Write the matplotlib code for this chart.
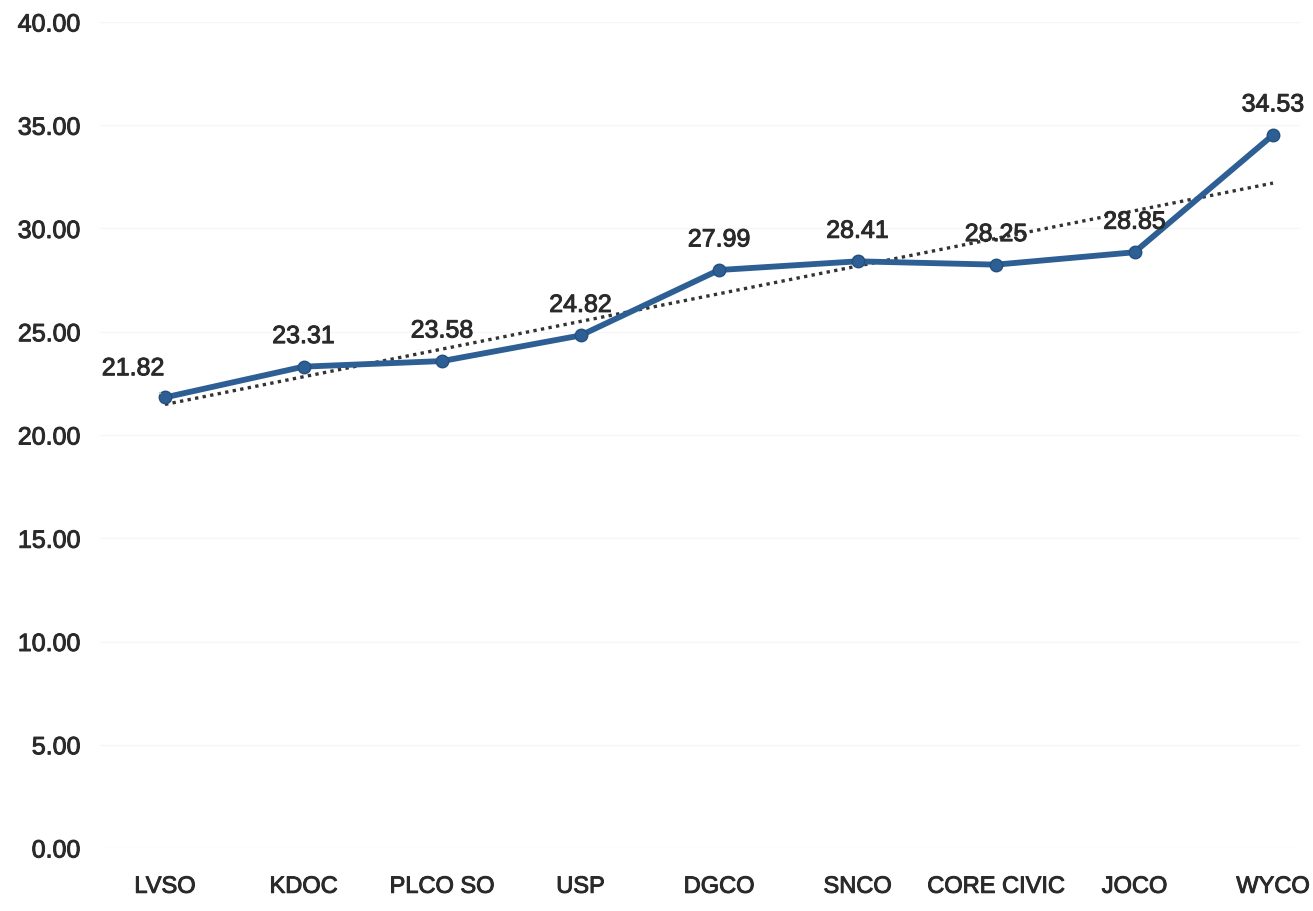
import matplotlib
matplotlib.use("Agg")
import matplotlib.pyplot as plt
import matplotlib.patheffects as pe
import numpy as np

categories = ["LVSO", "KDOC", "PLCO SO", "USP", "DGCO", "SNCO", "CORE CIVIC", "JOCO", "WYCO"]
values = [21.82, 23.31, 23.58, 24.82, 27.99, 28.41, 28.25, 28.85, 34.53]
y_ticks = [0, 5, 10, 15, 20, 25, 30, 35, 40]

plt.rcParams['font.family'] = ['Liberation Sans', 'DejaVu Sans']

W, H = 1313, 911
fig = plt.figure(figsize=(W / 100, H / 100), dpi=100)
left_px, right_px = 100, 1300
ax = fig.add_axes([left_px / W, (H - 848) / H, (right_px - left_px) / W, (848 - 22) / H])

x = np.arange(len(categories))
line_color = "#2d5f95"
text_color = "#2a2a2a"
thick = [pe.withStroke(linewidth=0.7, foreground=text_color)]

# trendline (linear fit)
coef = np.polyfit(x, values, 1)
ax.plot(x, np.polyval(coef, x), linestyle=(0, (1, 1.3)), color="#333333", lw=2.4, zorder=2)

ax.plot(x, values, color=line_color, lw=4.2, marker="o", markersize=9,
        markerfacecolor=line_color, markeredgecolor="#24507f", zorder=3)

for i, v in enumerate(values):
    if i == 0:
        t = ax.annotate(f"{v:.2f}", (i, v), xytext=(-23, 21), textcoords="offset points",
                        ha="center", va="center", fontsize=18, color=text_color,
                        arrowprops=dict(arrowstyle="-", color="#bbbbbb", lw=0.8,
                                        shrinkA=10, shrinkB=4))
    else:
        t = ax.annotate(f"{v:.2f}", (i, v), xytext=(0, 22), textcoords="offset points",
                        ha="center", va="center", fontsize=18, color=text_color)
    t.set_path_effects(thick)

scale = (1273 - 165) / 8
ax.set_xlim(-(165 - left_px) / scale, 8 + (right_px - 1273) / scale)
ax.set_ylim(0, 40)
ax.set_yticks(y_ticks)
ax.set_yticklabels([f"{t:.2f}" for t in y_ticks], fontsize=18, color=text_color)
ax.set_xticks(x)
ax.set_xticklabels(categories, fontsize=17, color=text_color)
for lbl in ax.get_xticklabels() + ax.get_yticklabels():
    lbl.set_path_effects(thick)
ax.tick_params(axis="both", length=0)
ax.tick_params(axis="y", pad=14)
ax.tick_params(axis="x", pad=20)
ax.grid(axis="y", color="#f6f6f6", lw=1)
ax.set_axisbelow(True)
for s in ax.spines.values():
    s.set_visible(False)

fig.savefig("out.png", dpi=100, facecolor="white")
